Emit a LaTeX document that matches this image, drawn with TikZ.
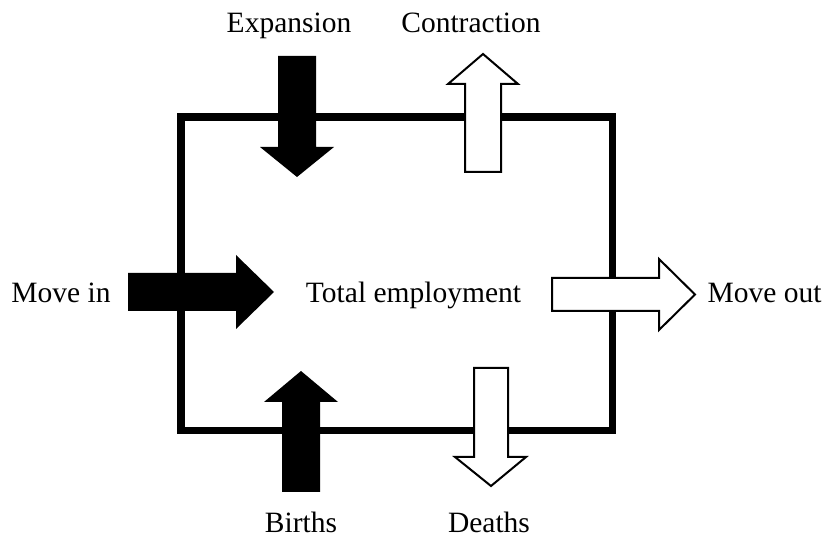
\documentclass[tikz,border=0pt]{standalone}
\usepackage{fontspec}
\setmainfont{Liberation Serif}
\begin{document}
\begin{tikzpicture}[x=1pt,y=-1pt,
  lbl/.style={inner sep=0pt,anchor=base,font=\fontsize{29.5}{32}\selectfont},
  blackarrow/.style={fill=black,draw=none},
  whitearrow/.style={fill=white,draw=black,line width=2pt,line join=miter}]
\useasboundingbox[fill=white] (0,0) rectangle (823,537);
% box
\draw[line width=7.5pt] (181,117) rectangle (612.5,430.5);
% Expansion (black, down)
\path[blackarrow] (278,56) -- (316,56) -- (316,147) -- (334,147) -- (297,177) -- (260,147) -- (278,147) -- cycle;
% Contraction (white, up)
\path[whitearrow] (465,172) -- (501,172) -- (501,84) -- (518,84) -- (483,54) -- (448,84) -- (465,84) -- cycle;
% Move in (black, right)
\path[blackarrow] (128,273) -- (236,273) -- (236,255) -- (274,292) -- (236,329) -- (236,311) -- (128,311) -- cycle;
% Move out (white, right)
\path[whitearrow] (552,278) -- (659,278) -- (659,259) -- (695,294.5) -- (659,330) -- (659,311) -- (552,311) -- cycle;
% Births (black, up)
\path[blackarrow] (282,492) -- (320,492) -- (320,402) -- (338,402) -- (301,371) -- (264,402) -- (282,402) -- cycle;
% Deaths (white, down)
\path[whitearrow] (474,368) -- (508,368) -- (508,457) -- (526,457) -- (491,486) -- (455,457) -- (474,457) -- cycle;
% labels
\node[lbl] (exp) at (289,33) {Expansion};
\node[lbl] (con) at (471,33) {Contraction};
\node[lbl] (min) at (61,303) {Move in};
\node[lbl] (tot) at (413.5,303) {Total employment};
\node[lbl] (mout) at (764.5,303) {Move out};
\node[lbl] (bir) at (301,532.5) {Births};
\node[lbl] (dea) at (489,532.5) {Deaths};
\end{tikzpicture}
\end{document}
